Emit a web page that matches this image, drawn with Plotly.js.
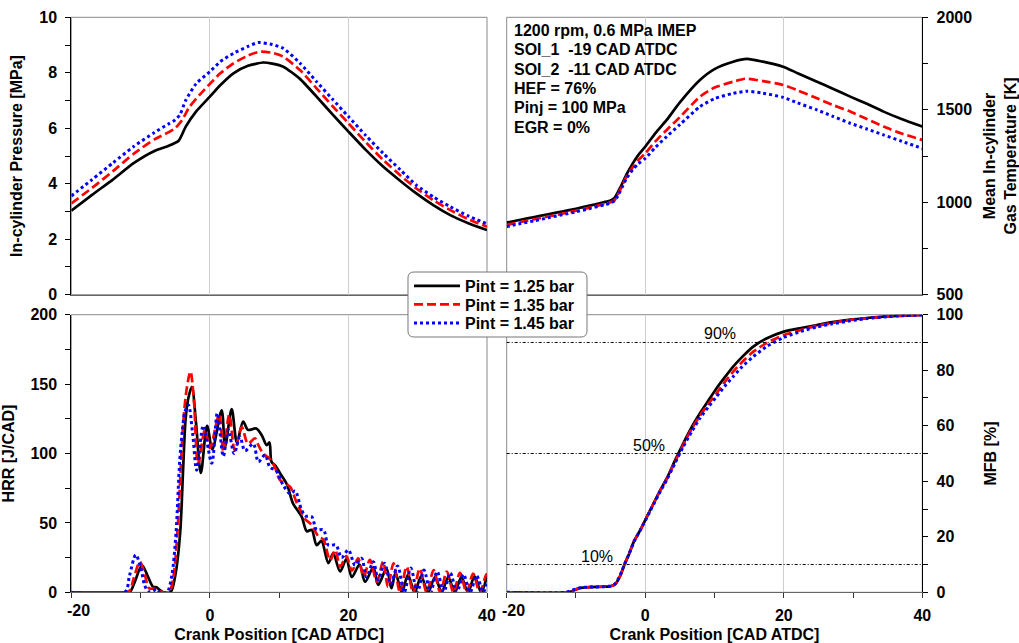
<!DOCTYPE html>
<html><head><meta charset="utf-8">
<script src="https://cdn.plot.ly/plotly-3.0.1.min.js"></script>
<style>html,body{margin:0;padding:0;background:#fff}#chart{width:1019px;height:643px}</style>
</head><body><div id="chart"></div><script>
// ---------- DATA ----------
const seriesNames = ['Pint = 1.25 bar', 'Pint = 1.35 bar', 'Pint = 1.45 bar'];

// crank-angle tick labels (the first one is drawn slightly right of its tick, as in the original)
const cadTickVals = [-20, 0, 20, 40];
const cadTickText = ['-20', '0', '20', '40'];

// In-cylinder pressure [MPa] vs CAD
const pres_125 = [[-20,3.03],[-17,3.6],[-14,4.15],[-11,4.74],[-8,5.18],[-6,5.36],[-4.5,5.55],[-3.5,6.05],[-2,6.6],[0,7.14],[1.5,7.55],[3.4,7.98],[5.5,8.25],[7.7,8.37],[9,8.33],[10.6,8.22],[13,7.78],[15.4,7.14],[17.7,6.5],[20,5.88],[22.5,5.22],[25,4.62],[27.5,4.1],[29.8,3.65],[32.3,3.22],[34.7,2.87],[37.3,2.58],[40,2.33]];
const pres_135 = [[-20,3.29],[-17,3.85],[-14,4.45],[-11,5.08],[-8,5.6],[-6,5.85],[-5,6.0],[-4,6.3],[-3,6.75],[-1.5,7.2],[0,7.6],[1.5,7.98],[3.4,8.34],[5.5,8.62],[7.2,8.76],[9,8.72],[10.6,8.58],[13,8.1],[15.4,7.44],[17.7,6.8],[20,6.18],[22.5,5.5],[25,4.86],[27.5,4.3],[29.8,3.83],[32.3,3.4],[34.7,3.05],[37.3,2.72],[40,2.45]];
const pres_145 = [[-20,3.56],[-17,4.15],[-14,4.75],[-11,5.34],[-8,5.85],[-6,6.15],[-5,6.3],[-4.3,6.5],[-3.5,7.0],[-2,7.6],[0,8.04],[1.5,8.4],[3.4,8.7],[5.5,8.95],[7,9.09],[9,9.02],[10.6,8.88],[13,8.35],[15.4,7.68],[17.7,7.05],[20,6.42],[22.5,5.74],[25,5.1],[27.5,4.5],[29.8,3.95],[32.3,3.52],[34.7,3.17],[37.3,2.84],[40,2.55]];

// Mean in-cylinder gas temperature [K]
const temp_125 = [[-20,890],[-18,905],[-16,920],[-14,935],[-12,950],[-10,965],[-8,982],[-6,1000],[-5,1010],[-4.4,1025],[-3.6,1080],[-2.7,1150],[-1.8,1210],[-1,1255],[0,1300],[1.5,1375],[3.1,1445],[5,1540],[7.9,1661],[10,1720],[12.7,1760],[14.7,1775],[17,1760],[19.9,1733],[22,1698],[24.8,1652],[27,1615],[29.6,1571],[32,1532],[34.4,1490],[37,1450],[40,1409]];
const temp_135 = [[-20,877],[-18,893],[-16,908],[-14,923],[-12,938],[-10,954],[-8,971],[-6,990],[-5,1000],[-4.4,1012],[-3.6,1068],[-2.7,1138],[-1.8,1190],[-1,1228],[0,1264],[1.5,1330],[3.1,1391],[5,1460],[7.9,1571],[10,1620],[12.7,1652],[14.5,1668],[17,1655],[19.9,1634],[22,1605],[24.8,1562],[27,1527],[29.6,1490],[32,1450],[34.4,1409],[37,1372],[40,1337]];
const temp_145 = [[-20,868],[-18,885],[-16,900],[-14,916],[-12,932],[-10,948],[-8,966],[-6,985],[-5,996],[-4.4,1008],[-3.6,1060],[-2.7,1129],[-1.8,1176],[-1,1208],[0,1237],[1.5,1298],[3.1,1355],[5,1420],[7.9,1517],[10,1560],[12.7,1589],[14.7,1600],[17,1590],[19.9,1567],[22,1537],[24.8,1499],[27,1466],[29.6,1427],[32,1396],[34.4,1364],[37,1330],[40,1291]];

// Heat release rate [J/CAD]
const hrr_125 = [[-20,0],[-12,0],[-11.5,0.5],[-10.8,8],[-9.8,19.5],[-9.0,12],[-8.2,4],[-7.7,3.6],[-7.2,1.5],[-6.7,0],[-5.7,0],[-5.0,12],[-4.3,42],[-3.85,90],[-3.5,125],[-3.1,140],[-2.6,148],[-2.0,122],[-1.3,86],[-0.4,120],[0.35,103],[1.7,131],[2.2,105],[3.15,132],[3.9,108],[4.8,123],[5.5,117],[6.7,118],[7.5,113],[8.2,106],[8.6,108],[8.9,94],[9.5,91],[10.1,86],[11.1,78],[12.0,64],[12.8,58],[13.3,54],[14.0,44],[14.7,45],[15.4,34],[16.1,37],[17.1,21],[17.8,28],[18.8,15],[19.7,24],[20.5,11],[21.6,20],[22.4,7.6],[23.6,18],[24.3,5.3],[25.5,17],[26.2,2.9],[26.8,14],[27.7,0],[28.6,12.5],[29.55,0],[30.5,11.5],[31.5,0],[32.5,11],[33.45,0],[34.4,11],[35.35,0],[36.3,11],[37.25,0],[38.2,11.5],[39.15,0],[40,12]];
const hrr_135 = [[-20,0],[-11.8,0],[-11.0,10],[-10.1,22],[-9.4,13],[-8.8,3],[-8.0,2.5],[-7.4,1],[-6.8,0],[-5.9,0],[-5.3,10],[-4.7,42],[-4.2,90],[-3.8,125],[-3.3,148],[-2.8,159],[-2.3,138],[-1.7,92],[-0.7,117],[0.0,104],[1.35,128],[1.95,101],[2.8,128],[3.6,102],[4.6,119],[5.5,107],[6.5,111],[7.0,106],[7.7,100],[8.7,96],[9.4,90],[10.1,81],[11.0,78],[11.6,76],[12.5,65],[13.0,60],[13.7,53],[14.7,48.5],[15.7,40],[16.4,38],[17.35,23],[18.1,30.5],[18.8,18.5],[19.7,26],[20.5,15.6],[21.4,24.5],[22.2,11.3],[23.1,23.3],[24.1,7.6],[25.0,22],[25.7,4],[26.5,20.9],[27.45,0],[28.4,18.5],[29.35,0],[30.3,17],[31.3,0],[32.3,16],[33.25,0],[34.2,15],[35.15,0],[36.1,14],[37.05,0],[38.0,13.5],[38.95,0],[39.9,13],[40,12.5]];
const hrr_145 = [[-20,0],[-12.3,0],[-11.6,12],[-10.7,27],[-10.0,18],[-9.4,5],[-8.9,0.5],[-8.2,1],[-7.7,2.4],[-7.2,0],[-6.2,0],[-5.5,12],[-4.9,42],[-4.35,95],[-4.0,115],[-3.6,130],[-3.1,135],[-2.5,115],[-1.9,88],[-0.95,120],[0.27,93],[1.07,129],[1.94,98],[2.66,117],[3.5,100],[4.35,112],[5.07,102],[6.27,107],[7.0,94],[7.96,99],[8.68,90],[9.5,88],[10.6,77],[11.6,71],[12.3,73],[13.2,60],[13.8,55],[14.7,54.5],[15.4,45],[16.4,45],[17.1,34],[18.2,34],[19.0,25],[20.0,30.5],[20.95,19.6],[21.9,24.5],[22.6,11],[23.6,22],[24.3,9],[25.2,21],[26.1,6],[27.1,19],[28.05,0],[29.0,17.5],[29.95,0],[30.9,16],[31.85,0],[32.8,15],[33.75,0],[34.7,14],[35.65,0],[36.6,13],[37.55,0],[38.5,12],[39.45,0],[40,8]];

// Mass fraction burned [%]
const mfb_125 = [[-20,0],[-11,0],[-10.5,0.5],[-9.5,1.5],[-8,1.9],[-6,2],[-5,2.2],[-4.3,3],[-3.6,6],[-3.0,10],[-2.3,14],[-1.6,18.5],[-0.8,22],[0,26],[1,31],[2,36],[3.1,41],[4.3,47.5],[5.5,53.7],[6.7,59.5],[7.9,64.5],[9.1,69],[10.3,73.5],[11.5,77.5],[12.7,81.3],[14.0,84.8],[15.6,88.5],[17.5,91.4],[20,93.9],[22.5,95.2],[24.8,96.3],[27,97.3],[29.6,98.2],[32,98.8],[35,99.4],[37.5,99.7],[40,99.9]];
const mfb_135 = [[-20,0],[-11,0],[-10.5,0.5],[-9.5,1.5],[-8,1.9],[-6,2],[-5,2.2],[-4.3,3],[-3.6,6],[-3.0,10],[-2.3,14],[-1.6,18.5],[-0.8,22],[0,26],[1,31],[2,35.8],[3.1,40.8],[4.3,47],[5.5,53.2],[6.7,58.8],[7.9,63.6],[9.1,67.8],[10.3,71.7],[11.5,75.8],[12.7,79.5],[14.0,83],[15.6,86.7],[17.5,89.8],[20,92.7],[22.5,94.5],[24.8,96],[27,97],[29.6,98.1],[32,98.7],[35,99.4],[37.5,99.7],[40,99.9]];
const mfb_145 = [[-20,0],[-11.5,0],[-10.7,0.6],[-9.5,1.6],[-8,1.9],[-6,2],[-5,2.3],[-4.3,3.2],[-3.6,6.3],[-3.0,10],[-2.3,14],[-1.6,18.3],[-0.8,22],[0,25.8],[1,30.7],[2,35.5],[3.1,40.5],[4.3,46.5],[5.5,52.5],[6.7,57.8],[7.9,62.7],[9.1,66.7],[10.3,70.5],[11.5,74.3],[12.7,77.7],[14.0,81.3],[15.6,84.9],[17.5,88.5],[20,91.8],[22.5,94],[24.8,95.6],[27,96.7],[29.6,97.8],[32,98.6],[35,99.3],[37.5,99.7],[40,99.9]];

// MFB reference levels
const mfbLevels = [10, 50, 90];
const mfbLevelLabels = ['10%', '50%', '90%'];
const mfbLabelCad = [-6.9, 0.6, 10.8];

// Operating-condition text
const infoLines = ['1200 rpm, 0.6 MPa IMEP', 'SOI_1  -19 CAD ATDC', 'SOI_2  -11 CAD ATDC', 'HEF = 76%', 'Pinj = 100 MPa', 'EGR = 0%'];

// ---------- STYLE ----------
const FONT = 'Liberation Sans, Arial, sans-serif';
const lineStyles = [
  {color: '#000000', width: 2.7, dash: 'solid'},
  {color: '#ff0000', width: 2.7, dash: '9px,4px'},
  {color: '#0000ff', width: 3, dash: 'dot'}
];
const legendIds = ['legend', 'legend2', 'legend3'];
const panels = [
  {data: [pres_125, pres_135, pres_145], xa: 'x', ya: 'y'},
  {data: [temp_125, temp_135, temp_145], xa: 'x2', ya: 'y2'},
  {data: [hrr_125, hrr_135, hrr_145], xa: 'x3', ya: 'y3'},
  {data: [mfb_125, mfb_135, mfb_145], xa: 'x4', ya: 'y4'}
];

const traces = [];
panels.forEach((p, pi) => {
  p.data.forEach((d, si) => {
    traces.push({
      type: 'scatter', mode: 'lines',
      x: d.map(v => v[0]), y: d.map(v => v[1]),
      xaxis: p.xa, yaxis: p.ya,
      name: seriesNames[si], legend: legendIds[si],
      showlegend: pi === 0,
      line: Object.assign({shape: 'spline', smoothing: pi === 2 ? 0.9 : 0.6}, lineStyles[si]),
      hoverinfo: 'x+y'
    });
  });
});

const tickFont = {family: FONT, size: 16, color: '#000', weight: 'bold'};
const titleFont = {family: FONT, size: 16, color: '#000', weight: 'bold'};

function xAxis(domain, anchor, bottom) {
  return {
    domain: domain, anchor: anchor, range: [-20, 40],
    tickmode: 'array', tickvals: cadTickVals,
    ticktext: cadTickText.map((t, i) => i === 0 ? '' : t),
    showgrid: true, gridcolor: '#cfcfcf', gridwidth: 1, zeroline: false,
    showline: true, linecolor: '#666', linewidth: 1,
    ticks: bottom ? 'outside' : '', ticklen: 5, tickcolor: '#333',
    showticklabels: bottom, tickfont: tickFont, ticklabelstandoff: 3,
    minor: bottom ? {dtick: 10, tick0: -20, ticks: 'outside', ticklen: 5, tickcolor: '#333', showgrid: false} : {ticks: '', showgrid: false},
    title: bottom ? {text: 'Crank Position [CAD ATDC]', font: titleFont, standoff: 8} : {text: ''},
    fixedrange: true
  };
}
function yAxis(domain, anchor, side, range, dtick, mdtick, title, standoff) {
  return {
    domain: domain, anchor: anchor, side: side, range: range, dtick: dtick, tick0: range[0],
    showgrid: false, zeroline: false, showline: true, linecolor: '#000', linewidth: 1,
    ticks: 'outside', ticklen: 5, tickcolor: '#000', tickfont: tickFont, ticklabelstandoff: 5,
    minor: {dtick: mdtick, tick0: range[0], ticks: 'outside', ticklen: 5, tickcolor: '#000', showgrid: false},
    title: {text: title, font: titleFont, standoff: standoff},
    fixedrange: true
  };
}

const W = 1019, H = 643;
const xL = [71.3 / W, 487 / W], xR = [506.7 / W, 922.3 / W];
const yT = [1 - 294.7 / H, 1 - 17.3 / H], yB = [1 - 592.3 / H, 1 - 314.7 / H];

const shapes = [];
[['x', 'y'], ['x2', 'y2'], ['x3', 'y3'], ['x4', 'y4']].forEach(([a, b]) => {
  shapes.push({type: 'rect', xref: a + ' domain', yref: b + ' domain', x0: 0, x1: 1, y0: 0, y1: 1,
    line: {color: '#8a8a8a', width: 1}, layer: 'below'});
});
mfbLevels.forEach(v => {
  shapes.push({type: 'line', xref: 'x4 domain', yref: 'y4', x0: 0, x1: 1, y0: v, y1: v,
    line: {color: '#000', width: 1, dash: '3px,2px,1px,2px'}, layer: 'above'});
});
// rounded legend box
(function () {
  const x0 = 408, x1 = 587, y0 = 272, y1 = 337, r = 6;
  const px = v => (v / W).toFixed(5), py = v => (1 - v / H).toFixed(5);
  const path = `M${px(x0 + r)},${py(y0)} L${px(x1 - r)},${py(y0)} Q${px(x1)},${py(y0)} ${px(x1)},${py(y0 + r)} ` +
    `L${px(x1)},${py(y1 - r)} Q${px(x1)},${py(y1)} ${px(x1 - r)},${py(y1)} L${px(x0 + r)},${py(y1)} ` +
    `Q${px(x0)},${py(y1)} ${px(x0)},${py(y1 - r)} L${px(x0)},${py(y0 + r)} Q${px(x0)},${py(y0)} ${px(x0 + r)},${py(y0)} Z`;
  shapes.push({type: 'path', xref: 'paper', yref: 'paper', path: path, fillcolor: '#fff',
    line: {color: '#777', width: 1}, layer: 'above'});
})();

const annotations = [];
infoLines.forEach((t, i) => {
  annotations.push({xref: 'paper', yref: 'paper', x: 512 / W, y: 1 - (30 + i * 19.5) / H,
    xanchor: 'left', yanchor: 'middle', text: t, showarrow: false,
    font: {family: FONT, size: 16, color: '#000', weight: 'bold'}});
});
mfbLevels.forEach((v, i) => {
  annotations.push({xref: 'x4', yref: 'y4', x: mfbLabelCad[i], y: v, xanchor: 'center', yanchor: 'bottom',
    yshift: -2, text: mfbLevelLabels[i], showarrow: false,
    font: {family: FONT, size: 16, color: '#000'}});
});
// first crank-angle tick label on each bottom axis, nudged right of the corner like the original
['x3', 'x4'].forEach(xa => {
  annotations.push({xref: xa, yref: 'paper', x: cadTickVals[0], y: 1 - 610 / H, xanchor: 'center', yanchor: 'middle',
    xshift: 7, text: cadTickText[0], showarrow: false, font: tickFont});
});

function legendAt(rowY) {
  return {x: 409 / W, y: 1 - rowY / H, xanchor: 'left', yanchor: 'middle', bgcolor: 'rgba(0,0,0,0)',
    borderwidth: 0, font: {family: FONT, size: 16, color: '#000', weight: 'bold'}, itemwidth: 46};
}

const layout = {
  width: W, height: H, margin: {l: 0, r: 0, t: 0, b: 0},
  paper_bgcolor: '#fff', plot_bgcolor: 'rgba(0,0,0,0)',
  font: {family: FONT, size: 16, color: '#000'},
  showlegend: true,
  legend: legendAt(286), legend2: legendAt(304.5), legend3: legendAt(323),
  xaxis: xAxis(xL, 'y', false),
  xaxis2: xAxis(xR, 'y2', false),
  xaxis3: xAxis(xL, 'y3', true),
  xaxis4: xAxis(xR, 'y4', true),
  yaxis: yAxis(yT, 'x', 'left', [0, 10], 2, 1, 'In-cylinder Pressure [MPa]', 12),
  yaxis2: yAxis(yT, 'x2', 'right', [500, 2000], 500, 250, 'Mean In-cylinder<br>Gas Temperature [K]', 12),
  yaxis3: yAxis(yB, 'x3', 'left', [0, 200], 50, 25, 'HRR [J/CAD]', 12),
  yaxis4: yAxis(yB, 'x4', 'right', [0, 100], 20, 10, 'MFB [%]', 22),
  shapes: shapes, annotations: annotations
};

Plotly.newPlot('chart', traces, layout, {displayModeBar: false, staticPlot: true});
</script></body></html>
